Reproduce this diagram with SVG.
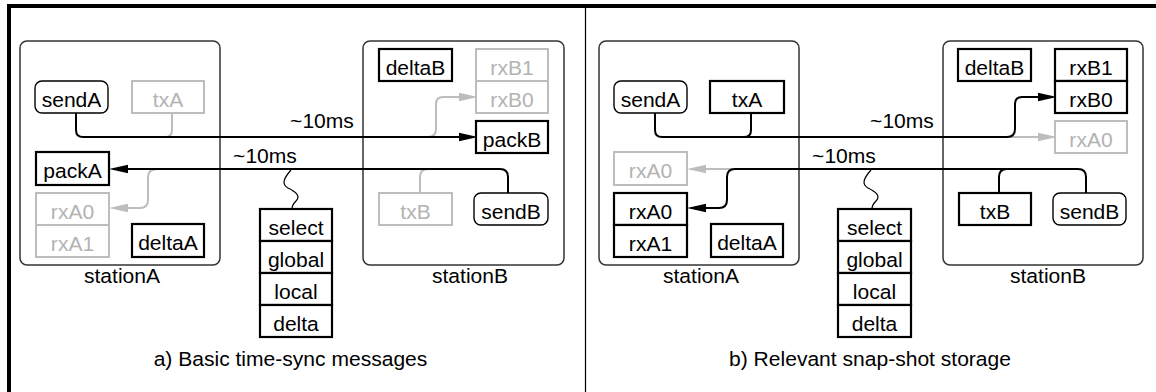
<svg xmlns="http://www.w3.org/2000/svg" width="1156" height="392" viewBox="0 0 1156 392">
<style>
.t{font-family:"Liberation Sans",Arial,sans-serif;font-size:19.5px;text-anchor:middle;fill:#000}
.tg{fill:#b3b3b3}
.st{fill:none;stroke:#333;stroke-width:1.5}
.bk{fill:#fff;stroke:#000;stroke-width:2.2}
.gy{fill:#fff;stroke:#bdbdbd;stroke-width:2}
.rd{fill:#fff;stroke:#000;stroke-width:1.4}
.c{fill:none;stroke:#000;stroke-width:2}
.cg{fill:none;stroke:#bdbdbd;stroke-width:2}
.sq{fill:none;stroke:#000;stroke-width:1.2}
</style>
<defs>
<marker id="ab" markerUnits="userSpaceOnUse" markerWidth="20" markerHeight="10" refX="15" refY="5" orient="auto"><path d="M0,0.8 L19,5 L0,9.2 z" fill="#000"/></marker>
<marker id="ag" markerUnits="userSpaceOnUse" markerWidth="20" markerHeight="10" refX="15" refY="5" orient="auto"><path d="M0,0.8 L19,5 L0,9.2 z" fill="#bdbdbd"/></marker>
</defs>
<rect width="1156" height="392" fill="#fff"/>
<g id="frame">
<rect x="7" y="4" width="1149" height="4" fill="#000"/>
<rect x="7" y="4" width="4" height="388" fill="#000"/>
<line x1="585.5" y1="6" x2="585.5" y2="392" stroke="#000" stroke-width="1.2"/>
</g>
<g id="stations">
<g id="a-stationA"><rect class="st" x="20" y="41" width="200" height="224" rx="7"/><text class="t" transform="translate(122,283) scale(1.08,1)">stationA</text></g>
<g id="a-stationB"><rect class="st" x="363" y="41" width="201" height="224" rx="7"/><text class="t" transform="translate(470,283) scale(1.08,1)">stationB</text></g>
<g id="b-stationA"><rect class="st" x="599" y="41" width="200" height="224" rx="7"/><text class="t" transform="translate(701,283) scale(1.08,1)">stationA</text></g>
<g id="b-stationB"><rect class="st" x="943" y="41" width="200" height="224" rx="7"/><text class="t" transform="translate(1048,283) scale(1.08,1)">stationB</text></g>
</g>
<g id="connectors">
<path class="cg" d="M172,113 V130 Q172,137 165,137 H160"/>
<path class="cg" d="M428,137 Q436,137 436,129 V104 Q436,97 443,97 H474" marker-end="url(#ag)"/>
<path class="cg" d="M420,193 V177 Q420,169 428,169 H434"/>
<path class="cg" d="M158,169 Q148,169 148,177 V200 Q148,208 140,208 H113" marker-end="url(#ag)"/>
<path class="c" d="M76,113 V130 Q76,137 83,137 H474" marker-end="url(#ab)"/>
<path class="c" d="M508,193 V177 Q508,169 500,169 H113" marker-end="url(#ab)"/>
<path class="sq" d="M291,170 C284,178 281,184 288,188 C296,192 301,196 296,201 C293,204 292,206 292,209"/>
<text class="t" transform="translate(322,128) scale(1.08,1)">~10ms</text>
<text class="t" transform="translate(265,163) scale(1.08,1)">~10ms</text>
<path class="cg" d="M1000,137 H1053" marker-end="url(#ag)"/>
<path class="cg" d="M740,169 H691" marker-end="url(#ag)"/>
<path class="c" d="M751,113 V130 Q751,137 744,137 H738"/>
<path class="c" d="M655,113 V130 Q655,137 662,137 H1007 Q1015,137 1015,129 V104 Q1015,97 1022,97 H1053" marker-end="url(#ab)"/>
<path class="c" d="M999,193 V177 Q999,169 1007,169 H1012"/>
<path class="c" d="M1086,193 V177 Q1086,169 1078,169 H735 Q727,169 727,177 V200 Q727,208 719,208 H691" marker-end="url(#ab)"/>
<path class="sq" d="M871,170 C864,178 861,184 868,188 C876,192 881,196 876,201 C873,204 872,206 872,209"/>
<text class="t" transform="translate(902,128) scale(1.08,1)">~10ms</text>
<text class="t" transform="translate(844,163) scale(1.08,1)">~10ms</text>
</g>
<g id="panel-a">
<g id="a-sendA"><rect class="rd" x="35" y="81" width="73" height="32" rx="7"/><text class="t" transform="translate(71.5,107) scale(1.08,1)">sendA</text></g>
<g id="a-txA"><rect class="gy" x="132" y="81" width="72" height="32"/><text class="t tg" transform="translate(168,107) scale(1.08,1)">txA</text></g>
<g id="a-packA"><rect class="bk" x="36" y="152" width="73" height="33"/><text class="t" transform="translate(72.5,178) scale(1.08,1)">packA</text></g>
<g id="a-rxA0"><rect class="gy" x="36" y="193" width="73" height="32"/><text class="t tg" transform="translate(72.5,219) scale(1.08,1)">rxA0</text></g>
<g id="a-rxA1"><rect class="gy" x="36" y="225" width="73" height="32"/><text class="t tg" transform="translate(72.5,251) scale(1.08,1)">rxA1</text></g>
<g id="a-deltaA"><rect class="bk" x="132" y="224" width="72" height="33"/><text class="t" transform="translate(168,250) scale(1.08,1)">deltaA</text></g>
<g id="a-deltaB"><rect class="bk" x="379" y="49" width="73" height="32"/><text class="t" transform="translate(415.5,75) scale(1.08,1)">deltaB</text></g>
<g id="a-rxB1"><rect class="gy" x="476" y="49" width="72" height="32"/><text class="t tg" transform="translate(512,75) scale(1.08,1)">rxB1</text></g>
<g id="a-rxB0"><rect class="gy" x="476" y="81" width="72" height="32"/><text class="t tg" transform="translate(512,107) scale(1.08,1)">rxB0</text></g>
<g id="a-packB"><rect class="bk" x="476" y="121" width="72" height="32"/><text class="t" transform="translate(512,147) scale(1.08,1)">packB</text></g>
<g id="a-txB"><rect class="gy" x="379" y="193" width="73" height="32"/><text class="t tg" transform="translate(415.5,219) scale(1.08,1)">txB</text></g>
<g id="a-sendB"><rect class="rd" x="474" y="193" width="74" height="32" rx="7"/><text class="t" transform="translate(511,219) scale(1.08,1)">sendB</text></g>
<g id="a-snapshot">
<rect class="bk" x="260" y="209" width="72" height="32"/><rect class="bk" x="260" y="241" width="72" height="32"/><rect class="bk" x="260" y="273" width="72" height="32"/><rect class="bk" x="260" y="305" width="72" height="32"/>
<text class="t" transform="translate(296,235) scale(1.08,1)">select</text>
<text class="t" transform="translate(296,267) scale(1.08,1)">global</text>
<text class="t" transform="translate(296,299) scale(1.08,1)">local</text>
<text class="t" transform="translate(296,331) scale(1.08,1)">delta</text>
</g>
<text id="a-caption" class="t" transform="translate(290.5,366) scale(1.08,1)">a) Basic time-sync messages</text>
</g>
<g id="panel-b">
<g id="b-sendA"><rect class="rd" x="614" y="81" width="73" height="32" rx="7"/><text class="t" transform="translate(650.5,107) scale(1.08,1)">sendA</text></g>
<g id="b-txA"><rect class="bk" x="710" y="81" width="74" height="32"/><text class="t" transform="translate(747,107) scale(1.08,1)">txA</text></g>
<g id="b-rxA0-old"><rect class="gy" x="614" y="152" width="73" height="33"/><text class="t tg" transform="translate(650.5,178) scale(1.08,1)">rxA0</text></g>
<g id="b-rxA0"><rect class="bk" x="614" y="193" width="73" height="32"/><text class="t" transform="translate(650.5,219) scale(1.08,1)">rxA0</text></g>
<g id="b-rxA1"><rect class="bk" x="614" y="225" width="73" height="32"/><text class="t" transform="translate(650.5,251) scale(1.08,1)">rxA1</text></g>
<g id="b-deltaA"><rect class="bk" x="711" y="224" width="72" height="33"/><text class="t" transform="translate(747,250) scale(1.08,1)">deltaA</text></g>
<g id="b-deltaB"><rect class="bk" x="958" y="49" width="73" height="32"/><text class="t" transform="translate(994.5,75) scale(1.08,1)">deltaB</text></g>
<g id="b-rxB1"><rect class="bk" x="1055" y="49" width="72" height="32"/><text class="t" transform="translate(1091,75) scale(1.08,1)">rxB1</text></g>
<g id="b-rxB0"><rect class="bk" x="1055" y="81" width="72" height="32"/><text class="t" transform="translate(1091,107) scale(1.08,1)">rxB0</text></g>
<g id="b-rxA0-B"><rect class="gy" x="1055" y="121" width="72" height="32"/><text class="t tg" transform="translate(1091,147) scale(1.08,1)">rxA0</text></g>
<g id="b-txB"><rect class="bk" x="959" y="193" width="72" height="32"/><text class="t" transform="translate(995,219) scale(1.08,1)">txB</text></g>
<g id="b-sendB"><rect class="rd" x="1053" y="193" width="73" height="32" rx="7"/><text class="t" transform="translate(1089.5,219) scale(1.08,1)">sendB</text></g>
<g id="b-snapshot">
<rect class="bk" x="838" y="209" width="73" height="32"/><rect class="bk" x="838" y="241" width="73" height="32"/><rect class="bk" x="838" y="273" width="73" height="32"/><rect class="bk" x="838" y="305" width="73" height="32"/>
<text class="t" transform="translate(874.5,235) scale(1.08,1)">select</text>
<text class="t" transform="translate(874.5,267) scale(1.08,1)">global</text>
<text class="t" transform="translate(874.5,299) scale(1.08,1)">local</text>
<text class="t" transform="translate(874.5,331) scale(1.08,1)">delta</text>
</g>
<text id="b-caption" class="t" transform="translate(870,366) scale(1.08,1)">b) Relevant snap-shot storage</text>
</g>
</svg>
